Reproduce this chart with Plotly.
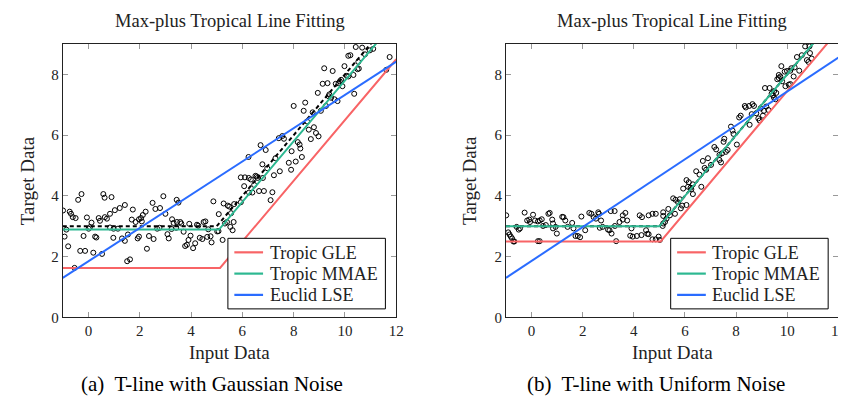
import plotly.graph_objects as go

# ---------------- data ----------------
# (a) Gaussian noise: scatter points
gauss_x = [-0.99, -0.86, -0.93, -0.79, -0.73, -0.68, -0.61, -0.50, -0.40, -0.27, -0.54, -0.32, -0.13,
           -0.19, -0.06, 0.01, 0.06, 0.12, 0.19, 0.26, 0.31, 0.40, 0.45, 0.53, 0.58, 0.63, 0.64, 0.90,
           0.84, 0.98, 0.72, 0.84, 1.03, 1.22, 1.42, 0.97, 1.15, 1.31, 1.42, 1.54, 1.51, 1.62, 1.73,
           1.69, 1.84, 1.97, 2.05, 2.12, 2.23, 1.92, 1.97, 2.08, 2.28, 2.36, 2.54, 2.50, 2.61, 2.79,
           2.68, 2.77, 2.92, 3.00, 3.08, 3.13, 3.26, 3.32, 3.45, 3.44, 3.51, 3.24, 3.42, 3.58, 3.62,
           3.71, 3.77, 3.84, 3.93, 3.90, 3.98, 4.08, 4.16, 4.23, 4.28, 4.34, 4.44, 4.49, 4.56, 4.63,
           4.76, 4.67, 4.80, 4.87, 5.02, 5.07, 5.08,
           5.27, 5.43, 5.49, 5.68, 5.94, 5.56, 5.32, 5.40, 5.53, 5.62, 5.66, 5.23,
           5.94, 6.10, 6.25, 6.33, 6.51, 6.56, 6.07, 6.46, 6.26, 6.39, 6.65, 6.84, 7.17, 7.10,
           6.59, 6.80, 6.78, 6.97, 7.23, 7.46, 7.29, 6.24, 6.71, 6.91, 7.42, 7.56, 7.62,
           7.81, 7.90, 7.92, 8.08, 8.16, 8.23, 8.26, 8.32, 8.00, 8.45, 8.39,
           8.52, 8.59, 8.79, 8.87, 8.97, 8.67, 8.74, 9.06, 9.26,
           9.46, 9.59, 9.71, 9.39, 9.36, 8.94, 9.13, 9.32, 9.64, 9.75, 9.80, 9.85, 9.90, 10.07,
           10.13, 9.98, 10.33, 10.36, 9.19, 9.52, 10.49, 10.54, 10.13, 10.21, 10.52, 10.78,
           10.42, 10.67, 10.97, 11.10, 11.61, 11.74]
gauss_y = [3.52, 2.89, 2.66, 2.34, 3.48, 3.41, 3.30, 3.27, 3.87, 4.06, 1.63, 2.19, 2.19,
           2.68, 3.29, 2.92, 2.97, 3.12, 2.13, 2.66, 2.63, 3.27, 3.18, 2.09, 4.06, 3.94, 3.30, 3.96,
           2.96, 2.92, 3.25, 3.41, 3.53, 3.60, 3.70, 2.62, 2.92, 2.60, 2.52, 2.73, 1.85, 1.91, 3.55,
           3.22, 3.14, 3.23, 3.27, 3.37, 3.48, 2.60, 2.66, 3.16, 2.26, 2.68, 2.58, 3.77, 3.57, 3.60,
           2.92, 2.95, 3.99, 3.41, 2.74, 2.60, 3.23, 3.11, 3.14, 3.87, 3.78, 2.91, 2.95, 3.14, 3.09,
           2.82, 2.35, 2.39, 3.08, 2.55, 2.69, 2.28, 2.44, 3.05, 3.02, 2.62, 2.58, 3.14, 3.16, 2.65,
           2.67, 2.90, 2.47, 3.82, 2.83, 2.84, 3.40,
           3.75, 3.68, 3.65, 3.73, 3.79, 3.43, 3.09, 3.14, 2.98, 2.87, 3.14, 2.55,
           4.61, 4.61, 4.59, 4.54, 4.66, 4.64, 4.32, 4.36, 4.11, 4.11, 4.16, 4.16, 4.12, 3.86,
           4.59, 4.59, 5.04, 4.91, 4.68, 4.81, 5.24, 5.28, 5.67, 5.51, 5.90, 5.97, 5.88,
           5.09, 4.86, 5.47, 5.13, 5.77, 5.69, 5.56, 5.28, 6.96, 7.07, 6.80,
           6.45, 6.18, 6.26, 6.07, 5.96, 5.87, 6.75, 6.80, 6.96,
           7.23, 7.18, 7.12, 7.34, 7.28, 7.39, 7.69, 7.71, 7.69, 7.71, 7.77, 7.82, 7.61, 7.95,
           7.93, 8.27, 7.98, 7.36, 8.20, 8.11, 8.17, 8.19, 8.61, 8.63, 8.41, 8.66,
           8.90, 8.88, 8.79, 8.84, 8.15, 8.57]

# (b) Uniform noise: scatter points
unif_x = [-0.99, -0.91, -0.86, -0.81, -0.76, -0.71, -0.67, -0.58, -0.50, -0.45, -0.27, -0.17, -0.09,
          -0.06, 0.06, 0.14, 0.25, 0.32, 0.25, 0.32, 0.40, 0.45, 0.56, 0.66, 0.71, 0.81, 0.84, 0.84,
          0.94, 0.99, 1.20, 1.25, 1.32, 1.41, 1.59, 1.64, 1.72, 1.81, 1.90, 1.95, 2.10, 2.26, 2.34,
          2.43, 2.52, 2.61, 2.64, 2.72, 2.78, 2.67, 2.99, 3.05, 3.13, 3.10, 3.25, 3.26, 3.31, 3.44,
          3.57, 3.67, 3.57, 3.74, 3.91, 3.86, 3.96, 4.12, 4.30, 4.23, 4.32, 4.48, 4.53, 4.58, 4.58,
          4.73, 4.86, 4.73, 4.86, 4.97, 5.02, 5.13, 5.41,
          5.15, 5.22, 5.28, 5.15, 5.15, 5.61, 5.35, 5.84, 5.89, 6.06, 5.54, 5.63, 5.73, 5.80, 5.93,
          6.06, 6.15, 6.31, 6.22, 6.12, 6.25, 6.31, 6.64, 6.44, 6.57, 6.77, 6.83, 7.02, 6.90, 6.70,
          7.35, 7.41, 7.35, 7.45, 7.67, 7.60, 7.15, 7.22, 7.54, 7.51, 8.03, 7.80, 7.86, 7.90,
          8.34, 8.12, 8.18,
          8.38, 8.51, 8.64, 8.70, 8.61, 8.79, 8.53, 8.87, 8.92, 9.05, 9.09, 8.96, 9.18, 9.26, 9.39,
          9.44, 9.49, 9.57, 9.48,
          9.54, 9.13, 9.31, 9.93, 10.06, 10.12, 9.80, 9.61, 9.67, 9.67, 9.73, 10.25, 9.90, 9.99,
          10.12, 10.47, 9.77, 10.16, 10.29, 10.77, 10.83, 10.96, 10.38, 10.57, 10.89, 10.70, 10.87]
unif_y = [3.36, 2.80, 2.73, 2.66, 2.60, 2.50, 2.50, 2.98, 2.89, 2.93, 3.45, 3.19, 3.22,
          3.14, 3.38, 3.19, 3.16, 3.19, 2.51, 2.51, 3.23, 3.01, 3.04, 3.41, 3.44, 3.22, 3.09, 2.93,
          2.98, 2.76, 3.31, 3.30, 3.19, 2.98, 3.11, 2.93, 2.68, 2.68, 2.64, 3.32, 2.87, 3.44, 3.41,
          3.30, 3.25, 3.46, 3.41, 3.19, 2.98, 2.95, 2.89, 2.87, 2.76, 3.50, 3.50, 3.01, 2.51, 3.14,
          3.36, 3.44, 3.22, 3.19, 2.93, 2.69, 2.66, 2.68, 2.71, 3.36, 3.30, 2.87, 2.75, 2.74, 3.36,
          3.41, 3.41, 2.57, 2.57, 2.66, 2.55, 3.01, 3.36,
          3.09, 3.14, 3.25, 3.34, 3.46, 3.41, 3.57, 3.59, 3.68, 3.70, 3.92, 3.87, 3.79, 3.89, 4.24,
          4.52, 4.45, 4.38, 4.27, 4.30, 4.22, 4.06, 4.30, 4.81, 4.70, 4.92, 4.86, 5.02, 5.24, 5.15,
          5.35, 5.10, 5.18, 5.40, 5.51, 5.45, 5.61, 5.53, 5.88, 5.78, 5.69, 6.28, 6.15, 6.04,
          6.96, 6.58, 6.64,
          6.91, 6.96, 7.02, 6.96, 6.69, 6.72, 6.34, 6.55, 6.48, 6.64, 6.80, 6.88, 6.94, 6.83, 7.37,
          7.31, 7.45, 7.39, 7.23,
          7.18, 7.55, 7.55, 7.61, 7.66, 7.68, 7.77, 7.84, 7.88, 7.98, 7.93, 7.93, 8.09, 8.11,
          8.12, 8.12, 8.27, 8.20, 8.23, 8.47, 8.41, 8.52, 8.57, 8.63, 8.70, 8.92, 8.92]

# fitted lines (vertices)
gauss_true_x = [-1, 5, 11.5]
gauss_true_y = [3.0, 3.0, 9.5]
gauss_gle_x = [-1, 5.13, 12]
gauss_gle_y = [1.63, 1.63, 8.5]
gauss_mmae_x = [-1, 5.09, 11.5]
gauss_mmae_y = [2.89, 2.89, 9.3]
gauss_lse_x = [-1, 12]
gauss_lse_y = [1.30, 8.42]

unif_true_x = [-1, 5, 11.5]
unif_true_y = [3.0, 3.0, 9.5]
unif_gle_x = [-1, 5.05, 12]
unif_gle_y = [2.5, 2.5, 9.45]
unif_mmae_x = [-1, 5, 11.5]
unif_mmae_y = [3.0, 3.0, 9.5]
unif_lse_x = [-1, 12]
unif_lse_y = [1.30, 8.55]

series_names = ["Tropic GLE", "Tropic MMAE", "Euclid LSE"]
x_ticks = [0, 2, 4, 6, 8, 10, 12]
y_ticks = [0, 2, 4, 6, 8]
title_text = "Max-plus Tropical Line Fitting"
x_title = "Input Data"
y_title = "Target Data"
captions = ["(a)  T-line with Gaussian Noise", "(b)  T-line with Uniform Noise"]

# ---------------- styling ----------------
W, H = 846, 402
SERIF = "'Liberation Serif', 'Times New Roman', 'DejaVu Serif', serif"
COLORS = ["#f86466", "#2db891", "#2a6cff"]
TXT = "#222"

def px_x(p):
    return p / W

def px_y(p):
    return 1 - p / H

PLOT_TOP, PLOT_BOT = 36.7, 315.7
panels = [
    dict(l=55.3, r=392.0, xa="x", ya="y",
         sx=gauss_x, sy=gauss_y, tx=gauss_true_x, ty=gauss_true_y,
         fits=[(gauss_gle_x, gauss_gle_y), (gauss_mmae_x, gauss_mmae_y), (gauss_lse_x, gauss_lse_y)],
         cap_x=206, ytitle_x=20, leg_l=222, leg_r=381),
    dict(l=502.7, r=838.3, xa="x2", ya="y2",
         sx=unif_x, sy=unif_y, tx=unif_true_x, ty=unif_true_y,
         fits=[(unif_gle_x, unif_gle_y), (unif_mmae_x, unif_mmae_y), (unif_lse_x, unif_lse_y)],
         cap_x=654, ytitle_x=466, leg_l=669, leg_r=828),
]
LEG_TOP, LEG_BOT = 235, 307
LEG_ROWS = [249.3, 271.0, 292.7]

fig = go.Figure()
annotations = []
shapes = []

for i, p in enumerate(panels):
    common = dict(xaxis=p["xa"], yaxis=p["ya"], showlegend=False)
    fig.add_trace(go.Scatter(x=p["sx"], y=p["sy"], mode="markers",
                             marker=dict(symbol="circle-open", size=5, color="black",
                                         line=dict(width=1, color="black")),
                             hoverinfo="skip", **common))
    fig.add_trace(go.Scatter(x=p["tx"], y=p["ty"], mode="lines",
                             line=dict(color="black", width=2, dash="4px,3px"), **common))
    for (fx, fy), name, col in zip(p["fits"], series_names, COLORS):
        fig.add_trace(go.Scatter(x=fx, y=fy, mode="lines", name=name,
                                 line=dict(color=col, width=2), **common))

    cx = (p["l"] + p["r"]) / 2
    annotations.append(dict(text=title_text, x=px_x(cx), y=px_y(13), xref="paper", yref="paper",
                            showarrow=False, xanchor="center", yanchor="middle",
                            font=dict(family=SERIF, size=18.5, color=TXT)))
    annotations.append(dict(text=x_title, x=px_x(cx), y=px_y(352), xref="paper", yref="paper",
                            showarrow=False, xanchor="center", yanchor="middle",
                            font=dict(family=SERIF, size=19, color=TXT)))
    annotations.append(dict(text=y_title, x=px_x(p["ytitle_x"]), y=px_y(176), xref="paper",
                            yref="paper", showarrow=False, xanchor="center", yanchor="middle",
                            textangle=-90, font=dict(family=SERIF, size=19, color=TXT)))
    annotations.append(dict(text=captions[i], x=px_x(p["cap_x"]), y=px_y(384), xref="paper",
                            yref="paper", showarrow=False, xanchor="center", yanchor="middle",
                            font=dict(family=SERIF, size=21, color="black")))

    # legend box
    shapes.append(dict(type="rect", xref="paper", yref="paper", layer="above",
                       x0=px_x(p["leg_l"]), x1=px_x(p["leg_r"]),
                       y0=px_y(LEG_BOT), y1=px_y(LEG_TOP),
                       line=dict(color="black", width=1), fillcolor="white"))
    for name, col, ry in zip(series_names, COLORS, LEG_ROWS):
        shapes.append(dict(type="line", xref="paper", yref="paper", layer="above",
                           x0=px_x(p["leg_l"] + 6.5), x1=px_x(p["leg_l"] + 35.5),
                           y0=px_y(ry), y1=px_y(ry), line=dict(color=col, width=2.2)))
        annotations.append(dict(text=name, x=px_x(p["leg_l"] + 40), y=px_y(ry + 0.5),
                                xref="paper", yref="paper", showarrow=False,
                                xanchor="left", yanchor="middle",
                                font=dict(family=SERIF, size=18, color=TXT)))

axis_common = dict(showgrid=False, zeroline=False, showline=True, linecolor=TXT, linewidth=1,
                   mirror="ticks", ticks="inside", ticklen=5, tickcolor="#999", tickwidth=1,
                   tickfont=dict(family=SERIF, size=15, color=TXT))

layout = dict(
    width=W, height=H, margin=dict(l=0, r=0, t=0, b=0),
    paper_bgcolor="white", plot_bgcolor="white",
    annotations=annotations, shapes=shapes, showlegend=False,
)
for i, p in enumerate(panels):
    sfx = "" if i == 0 else "2"
    layout["xaxis" + sfx] = dict(domain=[px_x(p["l"]), px_x(p["r"])], range=[-1, 12],
                                 tickvals=x_ticks, anchor="y" + sfx, **axis_common)
    layout["yaxis" + sfx] = dict(domain=[px_y(PLOT_BOT), px_y(PLOT_TOP)], range=[0, 9],
                                 tickvals=y_ticks, anchor="x" + sfx, **axis_common)

fig.update_layout(**layout)
fig.write_html("out.html")
